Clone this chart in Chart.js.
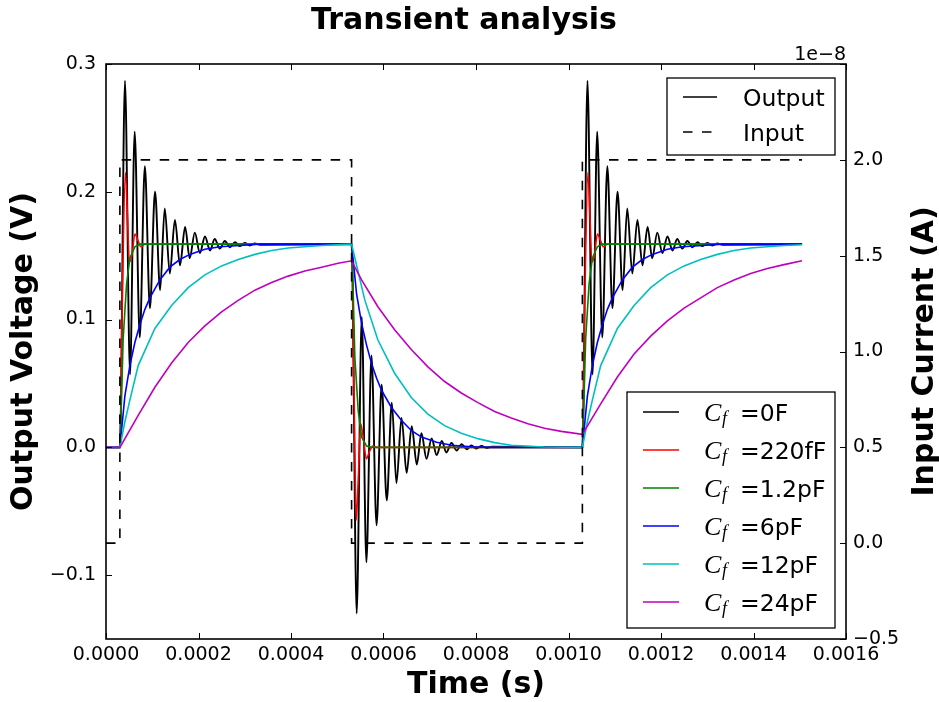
<!DOCTYPE html>
<html>
<head>
<meta charset="utf-8">
<title>Transient analysis</title>
<script src="https://cdn.jsdelivr.net/npm/chart.js@4.4.1/dist/chart.umd.min.js"></script>
<style>
  html, body { margin: 0; padding: 0; background: #fff; }
</style>
</head>
<body>
<canvas id="transientChart" width="939" height="702"></canvas>
<script>
// all times are in microseconds, voltages in V

// Cf = 0F (ringing)
const t0F = [0, 30,
  41, 52, 62, 73, 84, 95, 106, 117, 127, 138, 149, 160, 171, 181, 192, 203, 214, 225, 235, 246, 257, 268, 279, 289, 300, 311, 322, 333,
  531,
  542, 553, 563, 574, 585, 596, 607, 618, 628, 639, 650, 661, 672, 682, 693, 704, 715, 726, 736, 747, 758, 769, 780, 790, 801, 812, 823, 834,
  1030,
  1041, 1052, 1062, 1073, 1084, 1095, 1106, 1117, 1127, 1138, 1149, 1160, 1171, 1181, 1192, 1203, 1214, 1225, 1235, 1246, 1257, 1268, 1279, 1289, 1300, 1311, 1322, 1333,
  1505];
const v0F = [0, 0,
  0.287, 0.057, 0.247, 0.086, 0.220, 0.109, 0.200, 0.123, 0.187, 0.136, 0.178, 0.1425, 0.1725, 0.148, 0.168, 0.152, 0.165, 0.154, 0.163, 0.1555, 0.1615, 0.1565, 0.1605, 0.1575, 0.160, 0.158, 0.1595, 0.1585,
  0.159,
  -0.130, 0.102, -0.090, 0.072, -0.061, 0.049, -0.0415, 0.035, -0.028, 0.023, -0.020, 0.0165, -0.0135, 0.011, -0.009, 0.007, -0.006, 0.005, -0.004, 0.0035, -0.0025, 0.0025, -0.0015, 0.0015, -0.001, 0.001, -0.0005, 0.0005,
  0,
  0.287, 0.057, 0.247, 0.086, 0.220, 0.109, 0.200, 0.123, 0.187, 0.136, 0.178, 0.1425, 0.1725, 0.148, 0.168, 0.152, 0.165, 0.154, 0.163, 0.1555, 0.1615, 0.1565, 0.1605, 0.1575, 0.160, 0.158, 0.1595, 0.1585,
  0.159];

// Cf = 220fF
const t220f = [0, 30, 35, 42, 46, 50.5, 56, 62.5, 69, 75.5, 84,
  531, 536, 541, 546, 550.5, 556, 563, 570, 577, 585,
  1030, 1035, 1042, 1046, 1050.5, 1056, 1062.5, 1069, 1075.5, 1084, 1505];
const v220f = [0, 0, 0.11, 0.215, 0.185, 0.145, 0.150, 0.167, 0.162, 0.157, 0.159,
  0.159, 0.05, -0.057, -0.02, 0.0186, 0.008, -0.009, -0.003, 0.001, 0,
  0, 0.11, 0.215, 0.185, 0.145, 0.150, 0.167, 0.162, 0.157, 0.159, 0.159];

// Cf = 1.2pF
const t1p2 = [0, 30, 33.7, 37.1, 44.5, 51.6, 62.4, 73.2,
  531, 534.7, 538.1, 545.5, 552.6, 563.4, 574.2,
  1030, 1033.7, 1037.1, 1044.5, 1051.6, 1062.4, 1073.2, 1505];
const v1p2 = [0, 0, 0.04, 0.085, 0.128, 0.148, 0.157, 0.159,
  0.159, 0.118, 0.07, 0.028, 0.008, 0.001, 0,
  0, 0.04, 0.085, 0.128, 0.148, 0.157, 0.159, 0.159];

// Cf = 6pF
const t6p = [0, 30, 40.8, 51.6, 62.4, 73.2, 84.1, 94.9, 116.5, 138.1, 159.7, 181.3, 213.8, 246.2, 289.4, 332.7,
  531, 541.8, 552.6, 563.4, 574.2, 585.1, 595.9, 617.5, 639.1, 660.7, 682.3, 714.8, 747.2, 790.4, 833.7,
  1030, 1040.8, 1051.6, 1062.4, 1073.2, 1084.1, 1094.9, 1116.5, 1138.1, 1159.7, 1181.3, 1213.8, 1246.2, 1289.4, 1332.7, 1505];
const v6p = [0, 0, 0.040, 0.064, 0.082, 0.096, 0.108, 0.117, 0.131, 0.141, 0.147, 0.151, 0.155, 0.157, 0.158, 0.159,
  0.159, 0.120, 0.097, 0.080, 0.0655, 0.054, 0.0446, 0.031, 0.021, 0.013, 0.008, 0.004, 0.0016, 0.0005, 0,
  0, 0.040, 0.064, 0.082, 0.096, 0.108, 0.117, 0.131, 0.141, 0.147, 0.151, 0.155, 0.157, 0.158, 0.159, 0.159];

// Cf = 12pF
const t12p = [0, 30, 40.8, 51.6, 69.6, 105.7, 141.8, 177.7, 213.8, 249.9, 285.8, 321.9, 358, 393.9, 430, 466.1,
  531, 545.3, 559.8, 587.9, 624, 660.1, 696, 732.1, 768.2, 804.1, 840.2, 876.3, 948.3,
  1030, 1040.8, 1051.6, 1069.6, 1105.7, 1141.8, 1177.7, 1213.8, 1249.9, 1285.8, 1321.9, 1358, 1393.9, 1430, 1466.1, 1505];
const v12p = [0, 0, 0.020, 0.037, 0.064, 0.093, 0.111, 0.125, 0.135, 0.142, 0.147, 0.151, 0.154, 0.156, 0.157, 0.158,
  0.159, 0.137, 0.115, 0.084, 0.058, 0.039, 0.026, 0.017, 0.011, 0.0068, 0.0037, 0.0016, 0.0003,
  0, 0.020, 0.037, 0.064, 0.093, 0.111, 0.125, 0.135, 0.142, 0.147, 0.151, 0.154, 0.156, 0.157, 0.158, 0.1585];

// Cf = 24pF
const t24p = [0, 30, 69.6, 105.7, 141.8, 177.7, 213.8, 249.9, 285.8, 321.9, 358, 393.9, 430, 466.1, 502,
  531, 552.6, 587.9, 624, 660.1, 696, 732.1, 768.2, 804.1, 840.2, 876.3, 912.2, 948.3, 984.4,
  1030, 1069.6, 1105.7, 1141.8, 1177.7, 1213.8, 1249.9, 1285.8, 1321.9, 1358, 1393.9, 1430, 1466.1, 1505];
const v24p = [0, 0, 0.025, 0.047, 0.066, 0.082, 0.095, 0.106, 0.115, 0.123, 0.129, 0.134, 0.138, 0.141, 0.144,
  0.146, 0.131, 0.110, 0.092, 0.0765, 0.063, 0.0515, 0.0425, 0.035, 0.028, 0.023, 0.0185, 0.015, 0.0125,
  0.0102, 0.034, 0.055, 0.073, 0.087, 0.099, 0.109, 0.117, 0.125, 0.131, 0.136, 0.140, 0.143, 0.146];

// input current pulse (A)
const tInput = [0, 30, 30, 531, 531, 1030, 1030, 1505];
const iInput = [0, 0, 2e-8, 2e-8, 0, 0, 2e-8, 2e-8];

const cfLabels = ['=0F', '=220fF', '=1.2pF', '=6pF', '=12pF', '=24pF'];
const cfColors = ['#000000', '#ff0000', '#008000', '#0000ff', '#00bfbf', '#bf00bf'];

function toPoints(times, values) {
  return times.map((t, i) => ({ x: t * 1e-6, y: values[i] }));
}

function minusFmt(v, digits) {
  return (v < -1e-12 ? '\u2212' : '') + Math.abs(v).toFixed(digits);
}

const outT = [t0F, t220f, t1p2, t6p, t12p, t24p];
const outV = [v0F, v220f, v1p2, v6p, v12p, v24p];

const datasets = [{
  label: 'Input',
  data: toPoints(tInput, iInput),
  yAxisID: 'y2',
  borderColor: '#000',
  borderWidth: 1.6,
  borderDash: [9.5, 9.5],
  pointRadius: 0,
  tension: 0,
  order: 0
}];
for (let i = 0; i < outT.length; i++) {
  const ringing = i < 2;   // 0F and 220fF: smooth through the peaks
  datasets.push({
    label: 'Cf ' + cfLabels[i],
    data: toPoints(outT[i], outV[i]),
    yAxisID: 'y',
    borderColor: cfColors[i],
    borderWidth: i === 0 ? 1.9 : 1.6,
    pointRadius: 0,
    tension: 0,
    cubicInterpolationMode: ringing ? 'monotone' : 'default',
    order: 6 - i   // later curves sit on top, like matplotlib
  });
}

// title, inward ticks, frame, offset text, right label and the two legend boxes
const decorations = {
  id: 'decorations',
  afterDraw(chart) {
    const ctx = chart.ctx;
    const a = chart.chartArea;
    const sx = chart.scales.x, sy = chart.scales.y, sy2 = chart.scales.y2;
    const tl = 6;
    ctx.save();
    ctx.strokeStyle = '#000';
    ctx.lineWidth = 1;
    ctx.beginPath();
    sx.ticks.forEach(tk => {
      const p = Math.round(sx.getPixelForValue(tk.value)) + 0.5;
      ctx.moveTo(p, a.bottom); ctx.lineTo(p, a.bottom - tl);
      ctx.moveTo(p, a.top); ctx.lineTo(p, a.top + tl);
    });
    sy.ticks.forEach(tk => {
      if (Math.abs(tk.value * 10 - Math.round(tk.value * 10)) > 1e-6) return;
      const p = Math.round(sy.getPixelForValue(tk.value)) + 0.5;
      ctx.moveTo(a.left, p); ctx.lineTo(a.left + tl, p);
    });
    sy2.ticks.forEach(tk => {
      const p = Math.round(sy2.getPixelForValue(tk.value)) + 0.5;
      ctx.moveTo(a.right, p); ctx.lineTo(a.right - tl, p);
    });
    ctx.stroke();

    ctx.lineWidth = 1.6;
    ctx.strokeRect(a.left, a.top, a.right - a.left, a.bottom - a.top);

    ctx.fillStyle = '#000';
    ctx.textAlign = 'center';
    ctx.textBaseline = 'middle';
    ctx.font = 'bold 30px "DejaVu Sans"';
    ctx.fillText('Transient analysis', 464, 21);

    ctx.font = '19px "DejaVu Sans"';
    ctx.textAlign = 'right';
    ctx.textBaseline = 'alphabetic';
    ctx.fillText('1e\u22128', a.right, a.top - 4);

    // right axis title reads bottom-to-top like the left one
    ctx.save();
    ctx.translate(925, (a.top + a.bottom) / 2);
    ctx.rotate(-Math.PI / 2);
    ctx.textAlign = 'center';
    ctx.textBaseline = 'middle';
    ctx.font = 'bold 30px "DejaVu Sans"';
    ctx.fillText('Input Current (A)', 0, 0);
    ctx.restore();

    // upper legend
    ctx.textAlign = 'left';
    ctx.fillStyle = '#fff';
    ctx.fillRect(667, 78, 168, 77);
    ctx.lineWidth = 1.3;
    ctx.strokeRect(667, 78, 168, 77);
    ctx.lineWidth = 1.6;
    ctx.beginPath(); ctx.moveTo(683, 97); ctx.lineTo(717, 97); ctx.stroke();
    ctx.setLineDash([9.5, 9.5]);
    ctx.beginPath(); ctx.moveTo(683, 132); ctx.lineTo(717, 132); ctx.stroke();
    ctx.setLineDash([]);
    ctx.fillStyle = '#000';
    ctx.font = '23.5px "DejaVu Sans"';
    ctx.fillText('Output', 743, 106);
    ctx.fillText('Input', 743, 141);

    // lower legend
    ctx.fillStyle = '#fff';
    ctx.fillRect(627, 392, 208, 236);
    ctx.lineWidth = 1.3;
    ctx.strokeRect(627, 392, 208, 236);
    for (let i = 0; i < cfLabels.length; i++) {
      const y = 412 + i * 38;
      ctx.strokeStyle = cfColors[i];
      ctx.lineWidth = 1.6;
      ctx.beginPath(); ctx.moveTo(643, y); ctx.lineTo(679, y); ctx.stroke();
      ctx.fillStyle = '#000';
      ctx.font = 'italic 26px "Liberation Serif"';
      ctx.fillText('C', 704, y + 9);
      ctx.font = 'italic 18px "Liberation Serif"';
      ctx.fillText('f', 722, y + 12);
      ctx.font = '23.5px "DejaVu Sans"';
      ctx.fillText(cfLabels[i], 740, y + 8.5);
    }
    ctx.restore();
  }
};

Chart.defaults.font.family = '"DejaVu Sans"';
Chart.defaults.color = '#000';

const ctx = document.getElementById('transientChart').getContext('2d');
const chart = new Chart(ctx, {
  type: 'line',
  data: { datasets: datasets },
  options: {
    responsive: false,
    animation: false,
    devicePixelRatio: 1,
    layout: { padding: { top: 64, left: 0, right: 0, bottom: 0 } },
    plugins: {
      legend: { display: false },
      tooltip: { enabled: false },
      title: { display: false }
    },
    scales: {
      x: {
        type: 'linear',
        min: 0,
        max: 0.0016,
        grid: { display: false, drawTicks: false },
        border: { display: false },
        ticks: {
          stepSize: 0.0002,
          autoSkip: false,
          maxRotation: 0,
          padding: 5,
          font: { size: 19 },
          callback: v => v.toFixed(4)
        },
        title: {
          display: true,
          text: 'Time (s)',
          font: { size: 30, weight: 'bold', lineHeight: 1 },
          padding: { top: 0, bottom: 2 }
        },
        afterFit: s => { s.height = 63; }
      },
      y: {
        position: 'left',
        min: -0.15,
        max: 0.3,
        grid: { display: false, drawTicks: false },
        border: { display: false },
        ticks: {
          stepSize: 0.1,
          padding: 10,
          font: { size: 19 },
          callback: v => Math.abs(v * 10 - Math.round(v * 10)) < 1e-6 ? minusFmt(v, 1) : ''
        },
        title: {
          display: true,
          text: 'Output Voltage (V)',
          font: { size: 30, weight: 'bold', lineHeight: 1 },
          padding: { top: 9, bottom: 0 }
        },
        afterFit: s => { s.width = 106; }
      },
      y2: {
        position: 'right',
        min: -0.5e-8,
        max: 2.5e-8,
        grid: { display: false, drawTicks: false },
        border: { display: false },
        ticks: {
          stepSize: 0.5e-8,
          padding: 7,
          font: { size: 19 },
          callback: v => (v * 1e8 > 2.4 ? '' : minusFmt(v * 1e8, 1))
        },
        afterFit: s => { s.width = 93; }
      }
    }
  },
  plugins: [decorations]
});
</script>
</body>
</html>
